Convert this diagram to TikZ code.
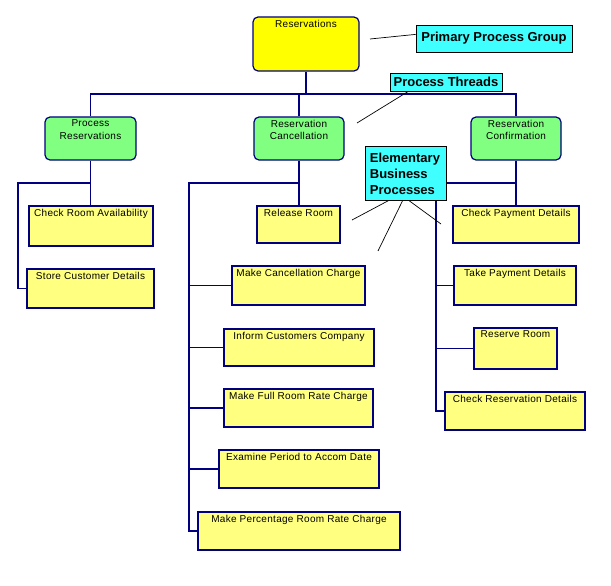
\documentclass[tikz,border=0pt]{standalone}
\usepackage{fontspec}
\setmainfont{Liberation Sans}
\newfontfamily\smallf[LetterSpace=3]{Liberation Sans}
\usetikzlibrary{fit}
\definecolor{navy}{HTML}{000080}
\definecolor{pyel}{HTML}{FFFF80}
\definecolor{pgreen}{HTML}{80FF80}
\definecolor{pcyan}{HTML}{40FFFF}
\definecolor{yel}{HTML}{FFFF00}
\begin{document}
\begin{tikzpicture}[x=1pt,y=-1pt,
 box/.style={draw=navy, line width=1.2pt, inner sep=0pt, rectangle},
 ebp/.style={box, fill=pyel},
 thr/.style={box, fill=pgreen, rounded corners=5pt},
 topbox/.style={box, fill=yel, rounded corners=5pt},
 lab/.style={font=\smallf\fontsize{10}{12.5}\selectfont, anchor=north, yshift=-3.5pt, align=center, inner sep=0pt},
 note/.style={draw=black, line width=0.8pt, fill=pcyan, font=\bfseries\fontsize{13}{16}\selectfont, inner sep=0pt},
 conn/.style={draw=navy, line width=1.2pt},
 ann/.style={draw=black, line width=0.7pt}]
\path[use as bounding box] (0,0) rectangle (611,586);

% top node and threads
\node[topbox, fit={(253,17) (359,71)}, label={[lab]north:Reservations}] (res) {};
\node[thr, fit={(45,117) (136,160)}, label={[lab]north:Process\\Reservations}] (pr) {};
\node[thr, fit={(254,117) (344,160)}, label={[lab]north:Reservation\\Cancellation}] (rc) {};
\node[thr, fit={(471,117) (561,160)}, label={[lab]north:Reservation\\Confirmation}] (rcf) {};

% elementary business processes
\node[ebp, fit={(29,206) (153,246)}, label={[lab]north:Check Room Availability}] (cra) {};
\node[ebp, fit={(27,269) (154,308)}, label={[lab]north:Store Customer Details}] (scd) {};
\node[ebp, fit={(257,206) (340,243)}, label={[lab]north:Release Room}] (rr) {};
\node[ebp, fit={(232,266) (365,305)}, label={[lab]north:Make Cancellation Charge}] (mcc) {};
\node[ebp, fit={(224,329) (374,366)}, label={[lab]north:Inform Customers Company}] (icc) {};
\node[ebp, fit={(224,389) (373,427)}, label={[lab]north:Make Full Room Rate Charge}] (mfr) {};
\node[ebp, fit={(219,450) (379,488)}, label={[lab]north:Examine Period to Accom Date}] (epa) {};
\node[ebp, fit={(198,512) (400,550)}, label={[lab]north:Make Percentage Room Rate Charge}] (mpr) {};
\node[ebp, fit={(453,206) (579,243)}, label={[lab]north:Check Payment Details}] (cpd) {};
\node[ebp, fit={(454,266) (576,305)}, label={[lab]north:Take Payment Details}] (tpd) {};
\node[ebp, fit={(474,328) (557,369)}, label={[lab]north:Reserve Room}] (rsr) {};
\node[ebp, fit={(445,392) (585,430)}, label={[lab]north:Check Reservation Details}] (crd) {};

% junctions
\coordinate (bus) at (0,94);
\coordinate (j1) at (18,183);
\coordinate (j2) at (189,183);
\coordinate (j3) at (436,183);

% connectors
\draw[conn] (res.south) -- (res.south |- bus);
\draw[conn] (pr.north) |- (rcf.north |- bus) -- (rcf.north);
\draw[conn] (rc.north) -- (rc.north |- bus);

\draw[conn] (pr.south) -- (pr.south |- cra.north);
\draw[conn] (pr.south |- j1) -- (j1) |- (scd.west);

\draw[conn] (rc.south) -- (rc.south |- rr.north);
\draw[conn] (rc.south |- j2) -- (j2) |- (mpr.west);
\foreach \n in {mcc,icc,mfr,epa} \draw[conn] (j2) |- (\n.west);

\draw[conn] (rcf.south) -- (rcf.south |- cpd.north);
\draw[conn] (rcf.south |- j3) -- (j3) |- (crd.west);
\foreach \n in {tpd,rsr} \draw[conn] (j3) |- (\n.west);

% annotations
\node[note, minimum width=156pt, minimum height=27pt] (ppg) at (494,38.5) {Primary Process Group};
\node[note, minimum width=112pt, minimum height=18pt] (pt) at (446,82) {Process Threads};
\node[note, anchor=north west, text width=72pt, inner xsep=4.5pt, minimum height=54pt, align=left] (ebpn) at (365,146) {Elementary\\Business\\Processes};

\coordinate (a1) at (370,39);
\coordinate (a2) at (357,123);
\coordinate (a3) at (352,220);
\coordinate (a4) at (378,251);
\coordinate (a5) at (441,224);
\draw[ann] (ppg.177) -- (a1);
\draw[ann] (pt.194) -- (a2);
\draw[ann] (ebpn.237) -- (a3);
\draw[ann] (ebpn.263) -- (a4);
\draw[ann] (ebpn.277) -- (a5);
\end{tikzpicture}
\end{document}
